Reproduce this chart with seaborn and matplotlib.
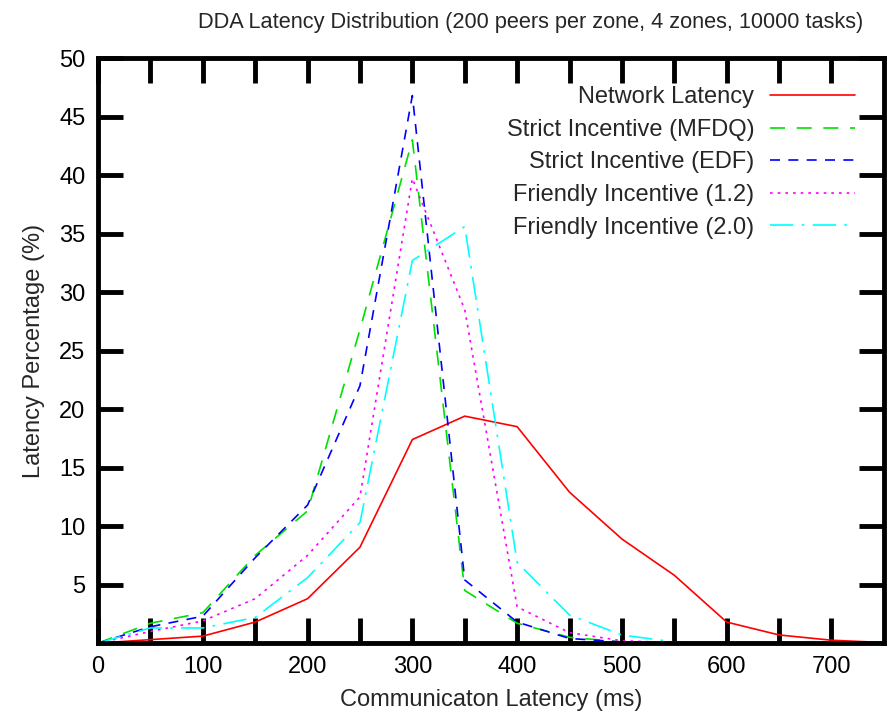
import pandas as pd
import seaborn as sns
import matplotlib.pyplot as plt


# ----------------------------------------
# data
# ----------------------------------------
latency_ms = [0, 50, 100, 150, 200, 250, 300, 350, 400, 450, 500, 550, 600, 650, 700, 750]

network = [0, 0.3, 0.6, 1.8, 3.8, 8.2, 17.4, 19.4, 18.5, 12.9, 8.9, 5.8, 1.8, 0.7, 0.25, 0.05]
strict_mfdq = [0, 1.7, 2.6, 7.5, 11.3, 26.8, 43.0, 4.5, 1.7, 0.5, 0.1, 0, 0, 0, 0, 0]
strict_edf = [0, 1.4, 2.3, 7.3, 11.8, 22.0, 46.8, 5.4, 1.8, 0.4, 0.1, 0, 0, 0, 0, 0]
friendly_12 = [0, 1.0, 1.9, 3.8, 7.5, 12.5, 39.7, 28.5, 3.1, 0.9, 0.2, 0.05, 0, 0, 0, 0]
friendly_20 = [0, 1.3, 1.3, 2.2, 5.6, 10.3, 32.7, 35.6, 6.9, 2.4, 0.7, 0.1, 0, 0, 0, 0]

series_names = [
    "Network Latency",
    "Strict Incentive (MFDQ)",
    "Strict Incentive (EDF)",
    "Friendly Incentive (1.2)",
    "Friendly Incentive (2.0)",
]
series_values = [network, strict_mfdq, strict_edf, friendly_12, friendly_20]

y_ticks = [5, 10, 15, 20, 25, 30, 35, 40, 45, 50]
x_ticks = [0, 100, 200, 300, 400, 500, 600, 700]


# long format table
rows = []
for name, values in zip(series_names, series_values):
    for x, v in zip(latency_ms, values):
        rows.append({"latency": x, "pct": v, "series": name})
df = pd.DataFrame(rows)


# ----------------------------------------
# style
# ----------------------------------------
sns.set_theme(style="white")
plt.rcParams["font.family"] = ["Liberation Sans", "DejaVu Sans"]

colors = {
    "Network Latency": "#FF0000",
    "Strict Incentive (MFDQ)": "#00E000",
    "Strict Incentive (EDF)": "#0000FF",
    "Friendly Incentive (1.2)": "#FF00FF",
    "Friendly Incentive (2.0)": "#00FFFF",
}

dash_styles = {
    "Network Latency": "",
    "Strict Incentive (MFDQ)": (9, 7),
    "Strict Incentive (EDF)": (6, 5),
    "Friendly Incentive (1.2)": (1.6, 3),
    "Friendly Incentive (2.0)": (14, 5, 1.6, 5),
}

FS = 17


fig = plt.figure(figsize=(8.91, 7.17), dpi=100)
ax = fig.add_axes([0.110, 0.103, 0.882, 0.816])

sns.lineplot(
    data=df,
    x="latency",
    y="pct",
    hue="series",
    style="series",
    palette=colors,
    dashes=dash_styles,
    hue_order=series_names,
    style_order=series_names,
    linewidth=1.2,
    ax=ax,
)

ax.set_xlim(0, 750)
ax.set_ylim(0, 50)

ax.set_xticks(x_ticks)
ax.set_xticks(range(50, 750, 100), minor=True)
ax.set_yticks(y_ticks)

ax.tick_params(
    axis="both",
    which="both",
    direction="in",
    length=18,
    width=3.5,
    bottom=True,
    left=True,
    top=True,
    right=True,
    labelsize=FS,
    colors="black",
    pad=9,
)

for spine in ax.spines.values():
    spine.set_linewidth(3.5)
    spine.set_color("black")

ax.set_xlabel("Communicaton Latency (ms)", fontsize=FS, labelpad=8)
ax.set_ylabel("Latency Percentage (%)", fontsize=FS, labelpad=10)

fig.text(
    0.596, 0.969,
    "DDA Latency Distribution (200 peers per zone, 4 zones, 10000 tasks)",
    ha="center", va="center", fontsize=15.7,
)

leg = ax.legend(
    loc="upper right",
    bbox_to_anchor=(0.963, 0.952),
    frameon=False,
    borderpad=0,
    borderaxespad=0,
    markerfirst=False,
    handlelength=3.6,
    handletextpad=0.65,
    labelspacing=0.45,
    fontsize=FS,
)

fig.savefig("out.png", dpi=100)
plt.close()
